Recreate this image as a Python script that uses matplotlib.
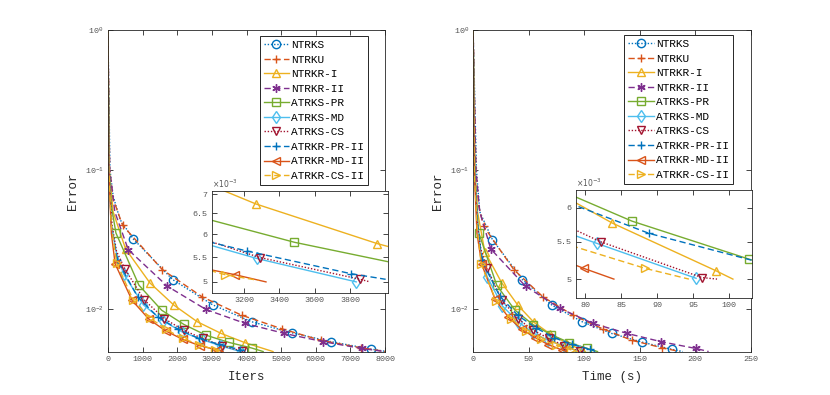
import matplotlib
matplotlib.use("Agg")
import matplotlib.pyplot as plt
from matplotlib.ticker import FixedLocator, FixedFormatter, NullLocator

plt.rcParams["font.family"] = ["Liberation Mono", "DejaVu Sans"]
plt.rcParams["mathtext.fontset"] = "dejavusans"

names = ["NTRKS", "NTRKU", "NTRKR-I", "NTRKR-II", "ATRKS-PR", "ATRKS-MD",
         "ATRKS-CS", "ATRKR-PR-II", "ATRKR-MD-II", "ATRKR-CS-II"]

# ---- error vs iterations ----
ntrks_it = [0, 60, 150, 350, 731, 1868, 3023, 4149, 5304, 6440, 7586, 8000]
ntrks_it_err = [1.0, 0.1, 0.065, 0.044, 0.0320, 0.01637, 0.01080, 0.00817, 0.00681, 0.00588, 0.00521, 0.00502]
ntrku_it = [0, 50, 150, 424, 1569, 2724, 3860, 5015, 6151, 7306, 8000]
ntrku_it_err = [1.0, 0.1, 0.062, 0.0400, 0.0193, 0.0123, 0.0091, 0.00728, 0.00601, 0.00532, 0.00501]
ntrkr1_it = [0, 40, 150, 511, 1213, 1906, 2579, 3268, 3953, 4765]
ntrkr1_it_err = [1.0, 0.1, 0.05, 0.0271, 0.01549, 0.01074, 0.00817, 0.00674, 0.00579, 0.0050]
ntrkr2_it = [0, 50, 200, 587, 1714, 2830, 3966, 5092, 6219, 7327, 7900]
ntrkr2_it_err = [1.0, 0.1, 0.05, 0.0268, 0.01468, 0.0100, 0.00794, 0.00674, 0.00588, 0.00526, 0.00503]
atrks_pr_it = [0, 35, 100, 231, 895, 1551, 2195, 2830, 3485, 4149, 4480]
atrks_pr_it_err = [1.0, 0.1, 0.055, 0.0353, 0.01493, 0.00988, 0.00781, 0.00655, 0.00582, 0.0053, 0.0050]
atrks_md_it = [0, 30, 100, 250, 462, 1024, 1586, 2148, 2710, 3272, 3834]
atrks_md_it_err = [1.0, 0.1, 0.04, 0.025, 0.0178, 0.0108, 0.0083, 0.0069, 0.0061, 0.00547, 0.0050]
atrks_cs_it = [0, 30, 120, 250, 491, 1049, 1627, 2186, 2734, 3290, 3856, 3912]
atrks_cs_it_err = [1.0, 0.1, 0.04, 0.026, 0.0195, 0.0117, 0.0086, 0.0071, 0.0062, 0.00549, 0.00505, 0.0050]
atrkr_pr_it = [0, 30, 100, 270, 859, 1448, 2037, 2626, 3215, 3804, 4000]
atrkr_pr_it_err = [1.0, 0.1, 0.04, 0.0225, 0.0123, 0.0088, 0.0072, 0.0062, 0.00563, 0.00516, 0.00505]
atrkr_md_it = [0, 25, 100, 209, 699, 1189, 1679, 2169, 2659, 3149, 3324]
atrkr_md_it_err = [1.0, 0.1, 0.035, 0.0212, 0.0116, 0.0085, 0.0070, 0.0061, 0.0055, 0.00514, 0.0050]
atrkr_cs_it = [0, 25, 100, 255, 731, 1213, 1680, 2160, 2640, 3093, 3281]
atrkr_cs_it_err = [1.0, 0.1, 0.04, 0.0214, 0.0117, 0.0087, 0.0072, 0.0062, 0.0056, 0.00514, 0.00503]

# ---- error vs time (s) ----
ntrks_t = [0, 3, 6, 17.4, 44.4, 71.2, 98.2, 124.6, 151.6, 179.2, 188.8]
ntrks_t_err = [1.0, 0.1, 0.05, 0.0316, 0.01637, 0.0107, 0.00817, 0.00674, 0.00585, 0.00518, 0.0050]
ntrku_t = [0, 2.5, 5, 9.6, 36.6, 63.0, 90.0, 116.5, 143.1, 170.2, 186]
ntrku_t_err = [1.0, 0.1, 0.055, 0.0393, 0.0193, 0.0123, 0.0091, 0.00728, 0.00601, 0.00532, 0.0050]
ntrkr1_t = [0, 1.5, 4, 10.5, 25.8, 40.4, 54.7, 69.2, 83.8, 98.1, 100.5]
ntrkr1_t_err = [1.0, 0.1, 0.05, 0.026, 0.0155, 0.0107, 0.0081, 0.0067, 0.00577, 0.00511, 0.0050]
ntrkr2_t = [0, 2.5, 6, 15.9, 47.2, 78.1, 108.0, 138.7, 169.3, 200.5, 212]
ntrkr2_t_err = [1.0, 0.1, 0.05, 0.0271, 0.01468, 0.0102, 0.00794, 0.00674, 0.00588, 0.00526, 0.0050]
atrks_pr_t = [0, 1.5, 3, 5.0, 21.3, 37.6, 53.9, 70.2, 86.5, 102.8, 112]
atrks_pr_t_err = [1.0, 0.1, 0.06, 0.0355, 0.0149, 0.0099, 0.0078, 0.0066, 0.0058, 0.00526, 0.0050]
atrks_md_t = [0, 1.2, 4, 7, 12.6, 26.4, 40.2, 54.0, 67.8, 81.6, 95.4]
atrks_md_t_err = [1.0, 0.1, 0.04, 0.026, 0.0172, 0.0106, 0.0082, 0.0068, 0.0060, 0.00548, 0.00501]
atrks_cs_t = [0, 1.2, 4, 7, 12.2, 26.2, 40.2, 54.2, 68.2, 82.2, 96.2, 98.3]
atrks_cs_t_err = [1.0, 0.1, 0.04, 0.027, 0.0198, 0.0116, 0.0086, 0.0071, 0.0062, 0.0055, 0.00502, 0.0050]
atrkr_pr_t = [0, 1.2, 4, 7.7, 23.9, 40.1, 56.3, 72.6, 88.9, 105.0, 110]
atrkr_pr_t_err = [1.0, 0.1, 0.04, 0.0225, 0.0125, 0.0091, 0.0074, 0.0063, 0.00562, 0.0052, 0.0050]
atrkr_md_t = [0, 1, 3.5, 7.8, 19.8, 31.8, 43.8, 55.8, 67.8, 79.8, 84.0]
atrkr_md_t_err = [1.0, 0.1, 0.035, 0.021, 0.0118, 0.0088, 0.0072, 0.0063, 0.0056, 0.00514, 0.0050]
atrkr_cs_t = [0, 1, 3.5, 7.3, 20.8, 34.3, 47.8, 61.3, 74.8, 88.3, 94.4]
atrkr_cs_t_err = [1.0, 0.1, 0.04, 0.021, 0.0115, 0.0086, 0.0070, 0.0061, 0.00555, 0.00514, 0.0050]

iter_data = [(ntrks_it, ntrks_it_err), (ntrku_it, ntrku_it_err), (ntrkr1_it, ntrkr1_it_err),
             (ntrkr2_it, ntrkr2_it_err), (atrks_pr_it, atrks_pr_it_err), (atrks_md_it, atrks_md_it_err),
             (atrks_cs_it, atrks_cs_it_err), (atrkr_pr_it, atrkr_pr_it_err), (atrkr_md_it, atrkr_md_it_err),
             (atrkr_cs_it, atrkr_cs_it_err)]
time_data = [(ntrks_t, ntrks_t_err), (ntrku_t, ntrku_t_err), (ntrkr1_t, ntrkr1_t_err),
             (ntrkr2_t, ntrkr2_t_err), (atrks_pr_t, atrks_pr_t_err), (atrks_md_t, atrks_md_t_err),
             (atrks_cs_t, atrks_cs_t_err), (atrkr_pr_t, atrkr_pr_t_err), (atrkr_md_t, atrkr_md_t_err),
             (atrkr_cs_t, atrkr_cs_t_err)]

# MATLAB default colour order
colors = ["#0072BD", "#D95319", "#EDB120", "#7E2F8E", "#77AC30", "#4DBEEE",
          "#A2142F", "#0072BD", "#D95319", "#EDB120"]
markers = ["o", "+", "^", (6, 2, 0), "s", "d", "v", "+", "<", ">"]
dotted = (0, (1, 1.3))
dashed = (0, (4.5, 2.5))
lstyles = [dotted, dashed, "-", dashed, "-", "-", dotted, dashed, "-", dashed]
# head points without markers, trailing end points without markers (iters / time)
heads_it = [4, 3, 3, 3, 3, 4, 4, 3, 3, 3]
tails_it = [1, 1, 1, 1, 1, 0, 1, 1, 1, 1]
heads_t = [3, 3, 3, 3, 3, 4, 4, 3, 3, 3]
tails_t = [1, 1, 1, 1, 1, 0, 1, 1, 1, 1]

gray = "#262626"
tgray = "#555555"


def style_axes(ax, size=6):
    for s in ax.spines.values():
        s.set_color(gray)
        s.set_linewidth(0.6)
    ax.tick_params(which="both", direction="in", top=True, right=True,
                   length=3.5, width=0.6, color=gray, labelsize=size,
                   labelcolor=tgray, pad=3)


def draw(ax, data, heads, tails, ms=6):
    lines = []
    for i, (x, y) in enumerate(data):
        mk = list(range(heads[i], len(x) - tails[i]))
        ln, = ax.plot(x, y, color=colors[i], linestyle=lstyles[i], lw=1.0,
                      marker=markers[i], markevery=mk, markersize=ms,
                      markerfacecolor="none" if i != 3 else colors[i],
                      markeredgewidth=1.0, label=names[i])
        lines.append(ln)
    return lines


fig = plt.figure(figsize=(8.3, 3.95), dpi=100)

ax1 = fig.add_axes([0.130, 0.110, 0.334, 0.814])
ax2 = fig.add_axes([0.570, 0.110, 0.3346, 0.814])

for ax, data, heads, tails, xmax, xlab in [
        (ax1, iter_data, heads_it, tails_it, 8000, "Iters"),
        (ax2, time_data, heads_t, tails_t, 250, "Time (s)")]:
    draw(ax, data, heads, tails)
    ax.set_yscale("log")
    ax.set_xlim(0, xmax)
    ax.set_ylim(0.005, 1)
    ax.yaxis.set_major_locator(FixedLocator([1e-2, 1e-1, 1]))
    ax.yaxis.set_minor_locator(NullLocator())
    style_axes(ax)
    ax.set_xlabel(xlab, fontsize=9, color=gray, labelpad=6)
    ax.set_ylabel("Error", fontsize=9, color=gray, labelpad=4)

leg_pos = [(ax1, (0.939, 0.981)), (ax2, (0.935, 0.984))]
for ax, anchor in leg_pos:
    leg = ax.legend(loc="upper right", bbox_to_anchor=anchor, borderaxespad=0,
                    fontsize=8, handlelength=2.3, handletextpad=0.2,
                    labelspacing=0.41, borderpad=0.35, fancybox=False,
                    framealpha=1, edgecolor=gray)
    leg.get_frame().set_linewidth(0.7)

# insets
in1 = fig.add_axes([0.255, 0.258, 0.2124, 0.258])
in2 = fig.add_axes([0.6936, 0.2448, 0.212, 0.274])

draw(in1, iter_data, heads_it, tails_it)
in1.set_yscale("log")
in1.set_xlim(3017, 4013)
in1.set_ylim(4.79e-3, 7.08e-3)
in1.xaxis.set_major_locator(FixedLocator([3200, 3400, 3600, 3800]))
in1.yaxis.set_major_locator(FixedLocator([5e-3, 5.5e-3, 6e-3, 6.5e-3, 7e-3]))
in1.yaxis.set_major_formatter(FixedFormatter(["5", "5.5", "6", "6.5", "7"]))

draw(in2, time_data, heads_t, tails_t)
in2.set_yscale("log")
in2.set_xlim(78.7, 103.1)
in2.set_ylim(4.76e-3, 6.28e-3)
in2.xaxis.set_major_locator(FixedLocator([80, 85, 90, 95, 100]))
in2.yaxis.set_major_locator(FixedLocator([5e-3, 5.5e-3, 6e-3]))
in2.yaxis.set_major_formatter(FixedFormatter(["5", "5.5", "6"]))

for ax in (in1, in2):
    ax.yaxis.set_minor_locator(NullLocator())
    style_axes(ax)
    ax.text(0.0, 1.01, r"$\times10^{-3}$", transform=ax.transAxes,
            fontsize=5.5, color=tgray, ha="left", va="bottom")

fig.savefig("out.png", dpi=100)
